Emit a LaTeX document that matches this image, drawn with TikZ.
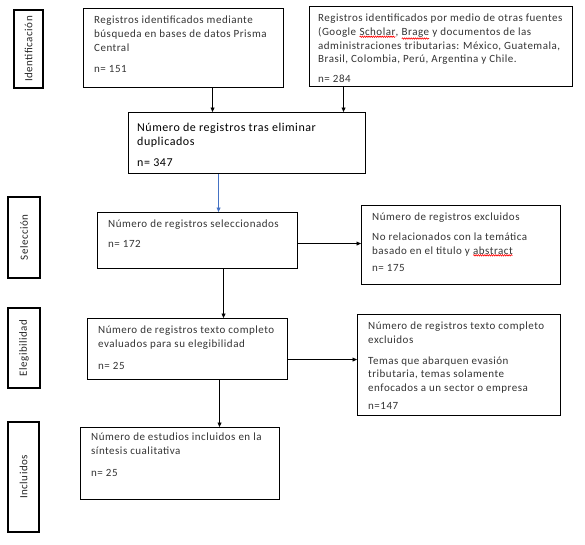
\documentclass[tikz,border=0pt]{standalone}
\usepackage{fontspec}
\setmainfont{Carlito}[LetterSpace=4.5]
\usetikzlibrary{arrows.meta,positioning,decorations.pathmorphing}
\newcommand{\flowfont}{\fontsize{11}{13.6}\selectfont}
\newcommand{\wavy}[1]{\tikz[baseline=(w.base)]{\node[inner sep=0pt,outer sep=0pt,text=black!80] (w) {#1};
  \draw[red,line width=0.6pt,decorate,decoration={snake,amplitude=0.7pt,segment length=2.2pt}] ([yshift=-1.2pt]w.south west) -- ([yshift=-1.2pt]w.south east);}}

\begin{document}
\begin{tikzpicture}[
  x=1pt,y=-1pt,
  every node/.style={font=\flowfont},
  flow/.style={draw,anchor=north west,line width=1.1pt,inner sep=0pt},
  txt/.style={anchor=north west,align=left,inner xsep=11pt,inner ysep=8pt,text=black!80},
  stage/.style={draw,line width=1.1pt,rotate=90,inner sep=0pt,text=black!85},
  edge/.style={->,line width=0.9pt},
  >={Triangle[length=4.5pt,width=4pt]}
]
\useasboundingbox (0,0) rectangle (585,544);

% fases
\node[stage,minimum width=78pt,minimum height=29pt] (fid) at (28.5,49) {Identificación};
\node[stage,minimum width=81pt,minimum height=32pt] (fsel) at (24,237.5) {Selección};
\node[stage,minimum width=80pt,minimum height=32pt] (feleg) at (24,348) {Elegibilidad};
\node[stage,minimum width=110pt,minimum height=31pt] (finc) at (23.5,477) {Incluidos};

% cajas
\node[flow,minimum width=200pt,minimum height=79pt] (db) at (83,8) {};
\node[txt] at (db.north west) {Registros identificados mediante\\ búsqueda en bases de datos Prisma\\ Central\\[8pt] n= 151};

\node[flow,minimum width=263pt,minimum height=80pt] (otras) at (309,6) {};
\node[txt,inner xsep=9pt] at (otras.north west) {Registros identificados por medio de otras fuentes\\ (Google \wavy{Scholar}, \wavy{Brage} y documentos de las\\ administraciones tributarias: México, Guatemala,\\ Brasil, Colombia, Perú, Argentina y Chile.\\[6pt] n= 284};

\node[flow,minimum width=237pt,minimum height=61pt] (dup) at (128,112) {};
\node[txt,inner xsep=9pt,inner ysep=11pt,text=black,font=\fontsize{12}{14}\selectfont] at (dup.north west) {Número de registros tras eliminar\\ duplicados\\[7pt] n= 347};

\node[flow,minimum width=200pt,minimum height=56pt] (sel) at (97,212) {};
\node[txt] at (sel.north west) {Número de registros seleccionados\\[6pt] n= 172};

\node[flow,minimum width=199pt,minimum height=79pt] (excl) at (361,205) {};
\node[txt] at (excl.north west) {Número de registros excluidos\\[6pt] No relacionados con la temática\\ basado en el titulo y \wavy{abstract}\\[4pt] n= 175};

\node[flow,minimum width=200pt,minimum height=61pt] (eleg) at (87,318) {};
\node[txt] at (eleg.north west) {Número de registros texto completo\\ evaluados para su elegibilidad\\[8pt] n= 25};

\node[flow,minimum width=203pt,minimum height=101pt] (fexcl) at (357,314) {};
\node[txt] at (fexcl.north west) {Número de registros texto completo\\ excluidos\\[7pt] Temas que abarquen evasión\\ tributaria, temas solamente\\ enfocados a un sector o empresa\\[5pt] n=147};

\node[flow,minimum width=199pt,minimum height=72pt] (incl) at (80,427) {};
\node[txt,inner ysep=6pt] at (incl.north west) {Número de estudios incluidos en la\\ síntesis cualitativa\\[8pt] n= 25};

% conectores
\draw[edge] ([xshift=29pt]db.south) -- ([xshift=29pt]db.south |- dup.north);
\draw[edge] ([xshift=-97.5pt]otras.south) -- ([xshift=-97.5pt]otras.south |- dup.north);
\draw[edge,color={rgb,255:red,68;green,114;blue,196}] ([xshift=-28.5pt]dup.south) -- ([xshift=-28.5pt]dup.south |- sel.north);
\draw[edge] ([yshift=-3pt]sel.east) -- ([yshift=-3pt]sel.east -| excl.west);
\draw[edge] ([xshift=26pt]sel.south) -- ([xshift=26pt]sel.south |- eleg.north);
\draw[edge] ([yshift=-10.5pt]eleg.east) -- ([yshift=-10.5pt]eleg.east -| fexcl.west);
\draw[edge] ([xshift=32pt]eleg.south) -- ([xshift=32pt]eleg.south |- incl.north);
\end{tikzpicture}
\end{document}
